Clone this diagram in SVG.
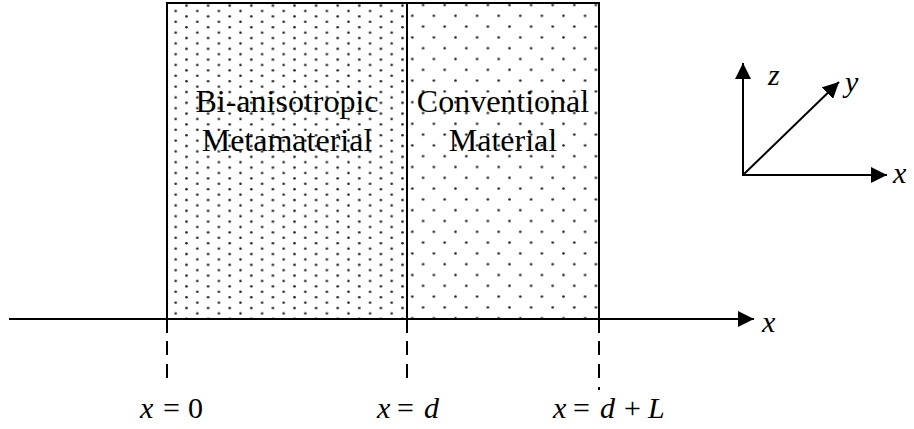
<svg xmlns="http://www.w3.org/2000/svg" width="914" height="429" viewBox="0 0 914 429">
<defs>
<style>
.ln{stroke:#000;stroke-width:2;fill:none}
.dash{stroke:#000;stroke-width:2;fill:none;stroke-dasharray:14 9}
.lbl{font-family:"Liberation Serif","Times New Roman",serif;font-size:32px;fill:#000}
.m{font-family:"Liberation Serif","Times New Roman",serif;font-size:30px;fill:#000}
.it{font-style:italic}
.dot{fill:#222}
</style>
<pattern id="dense" patternUnits="userSpaceOnUse" x="170.3" y="-2.5" width="21.6" height="10.8">
<circle class="dot" cx="5.4" cy="2.7" r="1.3"/>
<circle class="dot" cx="16.2" cy="8.1" r="1.3"/>
</pattern>
<pattern id="sparse" patternUnits="userSpaceOnUse" x="406.9" y="10.4" width="21.6" height="21.6">
<circle class="dot" cx="5.4" cy="5.4" r="1.3"/>
<circle class="dot" cx="16.2" cy="16.2" r="1.3"/>
</pattern>
<marker id="ah" markerUnits="userSpaceOnUse" markerWidth="18" markerHeight="16" refX="16" refY="8" orient="auto">
<path d="M0,0 L16,8 L0,16 Z" fill="#000"/>
</marker>
</defs>
<g id="metamaterial">
<rect x="167" y="3" width="240" height="316" fill="url(#dense)"/>
<rect x="167" y="3" width="240" height="316" class="ln"/>
<text class="lbl" x="287" y="112" text-anchor="middle">Bi-anisotropic</text>
<text class="lbl" x="287" y="151" text-anchor="middle">Metamaterial</text>
</g>
<g id="conventional">
<rect x="407" y="3" width="192" height="316" fill="url(#sparse)"/>
<rect x="407" y="3" width="192" height="316" class="ln"/>
<text class="lbl" x="503" y="112" text-anchor="middle">Conventional</text>
<text class="lbl" x="503" y="151" text-anchor="middle">Material</text>
</g>
<g id="connectors">
<line x1="9" y1="319" x2="754" y2="319" class="ln" marker-end="url(#ah)"/>
<line x1="167" y1="319" x2="167" y2="333" class="ln"/>
<line x1="407" y1="319" x2="407" y2="333" class="ln"/>
<line x1="599" y1="319" x2="599" y2="333" class="ln"/>
<line x1="167" y1="341" x2="167" y2="379" class="dash"/>
<line x1="407" y1="341" x2="407" y2="379" class="dash"/>
<line x1="599" y1="341" x2="599" y2="390" class="dash"/>
<line x1="743" y1="176" x2="743" y2="63" class="ln" marker-end="url(#ah)"/>
<line x1="742" y1="175" x2="887" y2="175" class="ln" marker-end="url(#ah)"/>
<line x1="743" y1="175" x2="839" y2="82" class="ln" marker-end="url(#ah)"/>
</g>
<g id="labels">
<text class="m it" x="762" y="332">x</text>
<text class="m it" x="768" y="85">z</text>
<text class="m it" x="845" y="92">y</text>
<text class="m it" x="893" y="183">x</text>
<text class="m" y="418"><tspan class="it" x="140">x</tspan><tspan x="163">=</tspan><tspan x="188">0</tspan></text>
<text class="m" y="418"><tspan class="it" x="377">x</tspan><tspan x="397">=</tspan><tspan x="424" class="it">d</tspan></text>
<text class="m" y="418"><tspan class="it" x="553">x</tspan><tspan x="573">=</tspan><tspan x="600" class="it">d</tspan><tspan x="624">+</tspan><tspan x="648" class="it">L</tspan></text>
</g>
</svg>
